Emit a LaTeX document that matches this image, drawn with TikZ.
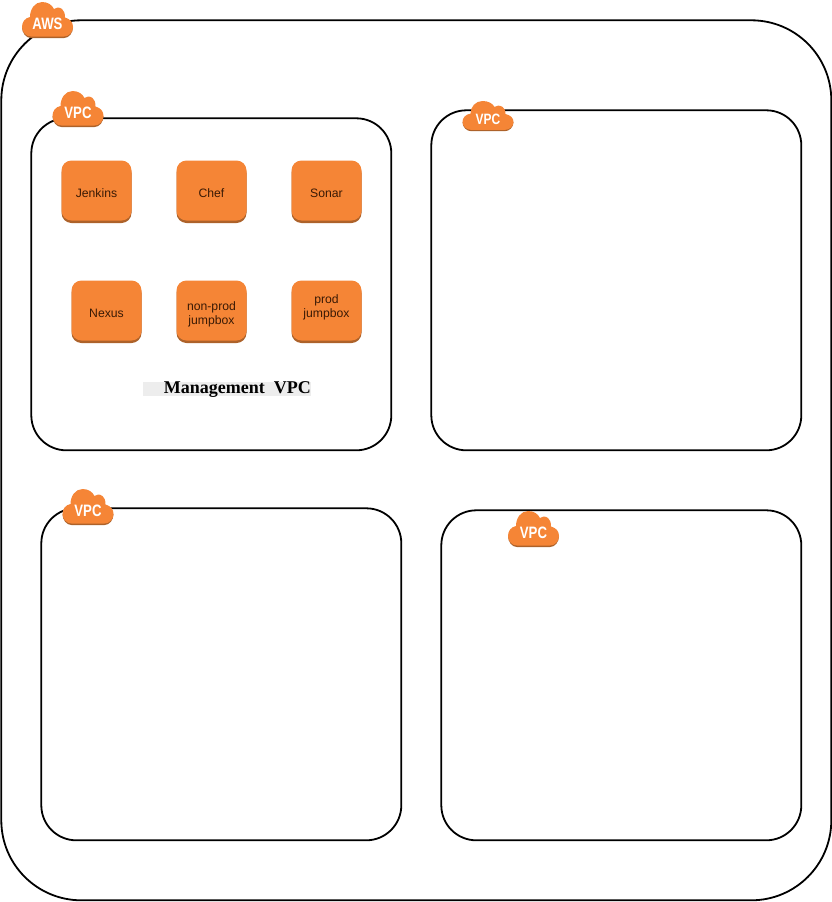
\documentclass[tikz,border=0pt]{standalone}
\usepackage{fontspec}
\setmainfont{Liberation Sans}
\newfontfamily\labelserif{Liberation Serif}[Scale=1]
\newfontfamily\cloudfont{Liberation Sans}[FakeStretch=0.8]
\definecolor{awsorange}{HTML}{F58536}
\definecolor{awsdark}{HTML}{AD622A}
\definecolor{labelgray}{HTML}{EDEDED}
\definecolor{boxtext}{HTML}{3A1A05}
\tikzset{
  container/.style={draw=black,line width=1.8pt,fill=white,rectangle,rounded corners=#1,inner sep=0pt,outer sep=0pt},
  service/.style={rectangle,fill=awsorange,rounded corners=10pt,inner sep=0pt,outer sep=0pt,minimum width=70pt,minimum height=60pt},
  servicelabel/.style={inner sep=0pt,align=center,font=\fontsize{12.2}{14.3}\selectfont,text=boxtext},
  serviceshadow/.style={rectangle,fill=awsdark,rounded corners=10pt,inner sep=0pt,outer sep=0pt,minimum width=70pt,minimum height=60pt},
  cloudtext/.style={text=white,inner sep=0pt,font=\cloudfont\bfseries\fontsize{#1}{#1}\selectfont},
  pics/awscloud/.style n args={3}{code={
    \begin{scope}[yscale=#2]
    \fill[awsdark] (9,36) .. controls (4,36) and (0,31) .. (0,25) -- (51,25) .. controls (51,31) and (47,36) .. (42,36) -- cycle;
    \fill[awsorange] (9,34.5) .. controls (4,34.5) and (0,30) .. (0,25)
      .. controls (0,20) and (3,16) .. (8,15)
      .. controls (8,7) and (13,0) .. (20,0)
      .. controls (26,0) and (30,3) .. (32,7)
      .. controls (34,5) and (37,5) .. (40,7)
      .. controls (42,9) and (43,11) .. (43,15.5)
      .. controls (48,17) and (51,20) .. (51,25)
      .. controls (51,30) and (47,34.5) .. (42,34.5) -- cycle;
    \node[cloudtext=#3] (-t) at (25.5,22.3) {#1};
    \end{scope}
  }},
}
\begin{document}
\begin{tikzpicture}[x=1pt,y=-1pt]
\useasboundingbox (0,0) rectangle (832,902);
% containers
\node[container=80pt,minimum width=830pt,minimum height=880pt] (aws) at (416.3,460.3) {};
\node[container=35pt,minimum width=360pt,minimum height=332pt] (vpcA) at (211.3,284.3) {};
\node[container=35pt,minimum width=370pt,minimum height=340pt] (vpcB) at (616.3,280.3) {};
\node[container=35pt,minimum width=360pt,minimum height=332pt] (vpcC) at (221.3,674.3) {};
\node[container=35pt,minimum width=360pt,minimum height=330pt] (vpcD) at (621.3,675.3) {};
% clouds
\pic (cloudAWS) at (22,2) {awscloud={AWS}{1}{16.5}};
\pic (cloudA) at (52.5,91) {awscloud={VPC}{1}{16.5}};
\pic (cloudB) at (462.5,101) {awscloud={VPC}{0.84}{15}};
\pic (cloudC) at (62.5,489) {awscloud={VPC}{1}{16.5}};
\pic (cloudD) at (508,511) {awscloud={VPC}{1}{16.5}};
% services
\foreach \nm/\cx/\cy in {jenkinsS/96.5/193,chefS/211.5/193,sonarS/326.5/193,nexusS/106.5/313,nonprodS/211.5/313,prodS/326.5/313}{
  \node[serviceshadow] (\nm) at (\cx,\cy) {};
}
\node[service,label={[servicelabel,yshift=-2.5pt]center:Jenkins}] (jenkins) at (96.5,190.5) {};
\node[service,label={[servicelabel,yshift=-2.5pt]center:Chef}] (chef) at (211.5,190.5) {};
\node[service,label={[servicelabel,yshift=-2.5pt]center:Sonar}] (sonar) at (326.5,190.5) {};
\node[service,label={[servicelabel,yshift=-2.5pt]center:Nexus}] (nexus) at (106.5,310.5) {};
\node[service,label={[servicelabel,yshift=-4pt]center:{non-prod\\jumpbox}}] (nonprod) at (211.5,310.5) {};
\node[service,label={[servicelabel,yshift=3pt]center:{prod\\jumpbox}}] (prod) at (326.5,310.5) {};
% management label
\node[rectangle,fill=labelgray,inner sep=0pt,outer sep=0pt,minimum width=168pt,minimum height=14pt] (mgmtbg) at (227,389) {};
\node[inner sep=0pt,anchor=east,text=black,font=\labelserif\bfseries\fontsize{18}{18}\selectfont] (mgmt) at (311,390) {Management\ \ VPC};
\end{tikzpicture}
\end{document}
